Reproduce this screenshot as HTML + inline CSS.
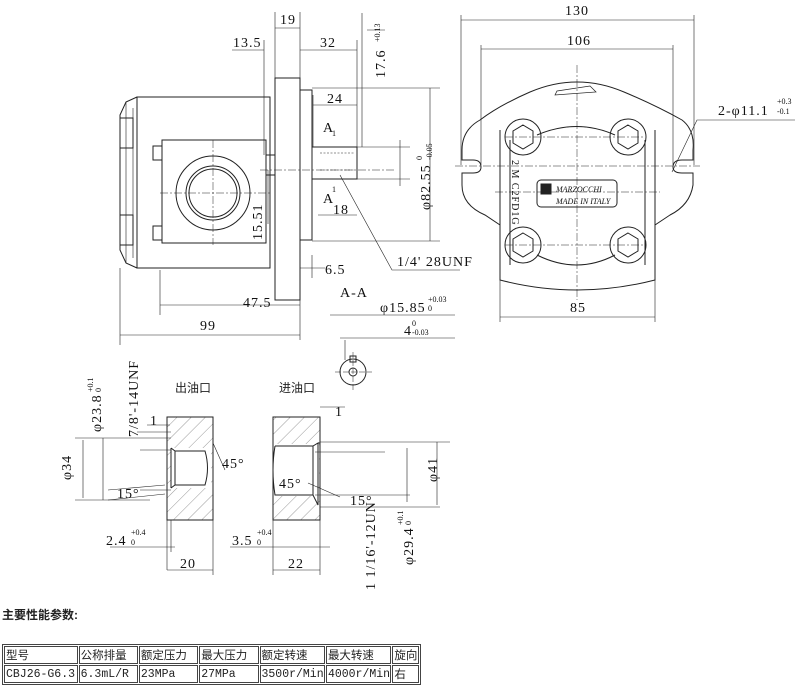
<!DOCTYPE html>
<html><head><meta charset="utf-8"><style>
body{margin:0;background:#fff;width:800px;height:697px;overflow:hidden;position:relative;font-family:"Liberation Sans","Noto Sans CJK SC",sans-serif}
svg{position:absolute;left:0;top:0}
.t{font-family:"Liberation Sans Narrow","Liberation Serif",serif;font-size:14px;fill:#111;stroke:none;letter-spacing:1px}
.s{font-size:8px;letter-spacing:0}
table{position:absolute;left:2px;top:644px;border-collapse:separate;border-spacing:1px;border:1px solid #444;font-size:11.5px;font-family:"Liberation Mono","Noto Sans CJK SC",monospace;table-layout:fixed;width:419px}
td{border:1px solid #444;padding:0 1px;height:16px;white-space:nowrap;overflow:hidden;color:#222}
.h{position:absolute;left:2px;top:606px;font-size:12px;font-weight:bold;color:#222}
</style></head><body>
<svg width="800" height="697" viewBox="0 0 800 697" fill="none" stroke="#222" stroke-width="1">
<!-- side view -->
<path d="M137 97 L270 97 L270 268 L137 268 Z"/>
<path d="M137 97 L126 102 L120 115 L120 250 L126 263 L137 268"/>
<path d="M120 118 h13 v30 h-13 M120 215 h13 v30 h-13" />
<path d="M126 102 L126 263 M133 108 v150" stroke-width="0.6"/>
<rect x="162" y="140" width="104" height="103"/>
<rect x="153" y="146" width="9" height="14"/><rect x="153" y="226" width="9" height="14"/>
<circle cx="213" cy="193" r="37"/><circle cx="213" cy="193" r="27"/><circle cx="213" cy="193" r="24"/>
<rect x="266" y="155" width="9" height="20"/>
<rect x="275" y="78" width="25" height="222"/>
<rect x="300" y="90" width="12" height="150"/>
<rect x="312" y="147" width="45" height="32"/>
<path d="M320 153 h35 M320 170 h35" stroke-dasharray="2 1.5" stroke-width="0.6"/>
<path d="M160 193 H270 M213 140 V245 M260 170 H395" stroke-width="0.5" stroke-dasharray="8 2 2 2"/>
<g stroke-width="0.6">
<path d="M275 12 V78 M300 12 V90 M275 28 H300"/>
<path d="M264 40 V155 M300 50 H357 M232 50 H264 M357 40 V147"/>
<path d="M313 105 H357 M313 95 V147"/>
<path d="M362 13 V147 M367 30 H385"/>
<path d="M312 88 H440 M312 241 H440 M430 88 V241 M357 147 H410 M357 179 H410 M400 140 V186"/>
<path d="M318 215 H357 M268 224 V170"/>
<path d="M300 268 H325 M312 255 V278"/>
<path d="M160 270 V315 M160 305 H300 M300 300 V340 M120 268 V345 M120 335 H300"/>
<path d="M340 175 L392 270 H460"/>
<path d="M330 315 H455 M340 338 H455 M345 340 V360"/>
</g>
<circle cx="353" cy="372" r="13"/><circle cx="353" cy="372" r="4"/><rect x="350" y="356" width="6" height="6"/>
<path d="M335 372 H372 M353 352 V392" stroke-width="0.5" stroke-dasharray="6 2"/>
<text class="t" x="280" y="24">19</text>
<text class="t" x="233" y="47">13.5</text>
<text class="t" x="320" y="47">32</text>
<text class="t" x="327" y="103">24</text>
<text class="t" x="323" y="132">A</text><text class="t s" x="332" y="136">1</text>
<text class="t" x="323" y="203">A</text><text class="t s" x="332" y="192">1</text>
<text class="t" x="333" y="214">18</text>
<text class="t" x="325" y="274">6.5</text>
<text class="t" x="397" y="266">1/4' 28UNF</text>
<text class="t" x="243" y="307">47.5</text>
<text class="t" x="200" y="330">99</text>
<text class="t" x="340" y="297">A-A</text>
<text class="t" x="380" y="312">φ15.85</text><text class="t s" x="428" y="302">+0.03</text><text class="t s" x="428" y="311">0</text>
<text class="t" x="404" y="335">4</text><text class="t s" x="412" y="326">0</text><text class="t s" x="412" y="335">-0.03</text>
<text class="t" transform="translate(385,78) rotate(-90)">17.6</text>
<text class="t s" transform="translate(380,42) rotate(-90)">+0.13</text>
<text class="t" transform="translate(430,210) rotate(-90)">φ82.55</text>
<text class="t s" transform="translate(422,160) rotate(-90)">0</text>
<text class="t s" transform="translate(432,160) rotate(-90)">-0.05</text>
<text class="t" transform="translate(262,240) rotate(-90)">15.51</text>
<!-- front view -->
<path d="M480 120 Q500 105 530 92 Q577 72 624 92 Q655 105 682 120 Q695 130 693 150 L693 160 H682 Q673 160 673 167 Q673 173 682 173 H693 L693 185 Q690 205 670 215 L655 225 L655 280 Q577 300 500 280 L500 225 L485 215 Q462 205 462 185 V173 H473 Q481 173 481 167 Q481 160 473 160 H462 V150 Q462 130 480 120 Z"/>
<path d="M500 130 V225 M655 130 V225 M510 140 V265 M645 140 V265"/>
<path d="M537 135 Q577 118 615 135 M537 255 Q577 275 615 255" />
<g>
<circle cx="523" cy="137" r="18"/><polygon points="523,125 533,131 533,143 523,149 513,143 513,131"/>
<circle cx="628" cy="137" r="18"/><polygon points="628,125 638,131 638,143 628,149 618,143 618,131"/>
<circle cx="523" cy="245" r="18"/><polygon points="523,233 533,239 533,251 523,257 513,251 513,239"/>
<circle cx="628" cy="245" r="18"/><polygon points="628,233 638,239 638,251 628,257 618,251 618,239"/>
</g>
<path d="M557 91 L590 86 L596 92 L555 95 Z" stroke-width="0.7"/>
<rect x="537" y="180" width="80" height="27" rx="4"/>
<rect x="541" y="184" width="10" height="10" fill="#222"/>
<text class="t" x="556" y="192" style="font-size:8px;font-style:italic;letter-spacing:0">MARZOCCHI</text>
<text class="t" x="556" y="204" style="font-size:8px;font-style:italic;letter-spacing:0">MADE IN ITALY</text>
<text class="t" transform="translate(512,160) rotate(90)" style="font-size:10px">2 M C2FD1G</text>
<g stroke-width="0.5" stroke-dasharray="8 2 2 2"><path d="M577 65 V300 M455 166 H700 M495 192 H660 M505 137 H645 M505 245 H645"/></g>
<g stroke-width="0.6">
<path d="M461 15 V165 M694 15 V165 M461 20 H694 M481 45 V165 M673 45 V165 M481 49 H673 M500 280 V322 M655 280 V322 M500 317 H655"/>
<path d="M672 172 L697 120 H795"/>
</g>
<text class="t" x="565" y="15">130</text>
<text class="t" x="567" y="45">106</text>
<text class="t" x="570" y="312">85</text>
<text class="t" x="718" y="115">2-φ11.1</text><text class="t s" x="777" y="104">+0.3</text><text class="t s" x="777" y="114">-0.1</text>
<!-- ports -->
<text x="175" y="392" style="font-size:12px;font-family:'Noto Sans CJK SC',sans-serif" fill="#222" stroke="none">出油口</text>
<text x="279" y="392" style="font-size:12px;font-family:'Noto Sans CJK SC',sans-serif" fill="#222" stroke="none">进油口</text>
<defs><pattern id="h" width="10" height="10" patternUnits="userSpaceOnUse" patternTransform="rotate(45)"><line x1="0" y1="0" x2="0" y2="10" stroke="#555" stroke-width="0.6"/></pattern></defs>
<rect x="167" y="417" width="46" height="103" fill="url(#h)"/>
<rect x="171" y="448" width="40" height="40" fill="#fff" stroke="none"/>
<path d="M167 417 H213 V520 H167 Z M171 448 V488 M171 448 L175 451 H205 Q210 468 205 485 H175 L171 488 M175 451 V485"/>
<rect x="273" y="417" width="47" height="103" fill="url(#h)"/>
<rect x="273" y="444" width="46" height="52" fill="#fff" stroke="none"/>
<path d="M273 417 H320 V520 H273 Z M275 446 H313 L318 443 V505 L313 495 H275 Q271 470 275 446 M313 446 V495 M318 443 H320"/>
<g stroke-width="0.6">
<path d="M75 438 H171 M75 500 H150 M83 440 V498 M103 438 V500 M140 450 H171 M140 490 H171 M137 432 H171"/>
<path d="M108 490 L165 485 M108 500 L165 494"/>
<path d="M167 520 V570 M213 488 V575 M167 570 H213 M110 547 H175 M171 520 V552"/>
<path d="M320 442 H450 M315 452 H385 M315 495 H410 M320 507 H440 M407 448 V502 M437 442 V505"/>
<path d="M273 520 V575 M320 520 V575 M273 570 H320 M230 547 H330"/>
<path d="M320 407 H345 M147 425 H170"/>
<path d="M213 443 L225 470 M308 483 L340 497"/>
</g>
<text class="t" x="150" y="425">1</text>
<text class="t" x="335" y="416">1</text>
<text class="t" x="222" y="468">45°</text>
<text class="t" x="279" y="488">45°</text>
<text class="t" x="117" y="498">15°</text>
<text class="t" x="350" y="505">15°</text>
<text class="t" x="106" y="545">2.4</text><text class="t s" x="131" y="535">+0.4</text><text class="t s" x="131" y="545">0</text>
<text class="t" x="232" y="545">3.5</text><text class="t s" x="257" y="535">+0.4</text><text class="t s" x="257" y="545">0</text>
<text class="t" x="180" y="568">20</text>
<text class="t" x="288" y="568">22</text>
<text class="t" transform="translate(71,480) rotate(-90)">φ34</text>
<text class="t" transform="translate(101,432) rotate(-90)">φ23.8</text>
<text class="t s" transform="translate(93,392) rotate(-90)">+0.1</text>
<text class="t s" transform="translate(101,392) rotate(-90)">0</text>
<text class="t" transform="translate(138,437) rotate(-90)">7/8'-14UNF</text>
<text class="t" transform="translate(437,482) rotate(-90)">φ41</text>
<text class="t" transform="translate(413,565) rotate(-90)">φ29.4</text>
<text class="t s" transform="translate(403,525) rotate(-90)">+0.1</text>
<text class="t s" transform="translate(411,525) rotate(-90)">0</text>
<text class="t" transform="translate(375,590) rotate(-90)">1 1/16'-12UN</text>
</svg>
<div class="h">主要性能参数:</div>
<table><colgroup><col style="width:72px"><col style="width:58px"><col style="width:58px"><col style="width:58px"><col style="width:64px"><col style="width:64px"><col style="width:26px"></colgroup>
<tr><td>型号</td><td>公称排量</td><td>额定压力</td><td>最大压力</td><td>额定转速</td><td>最大转速</td><td>旋向</td></tr>
<tr><td>CBJ26-G6.3</td><td>6.3mL/R</td><td>23MPa</td><td>27MPa</td><td>3500r/Min</td><td>4000r/Min</td><td>右</td></tr></table>
</body></html>
